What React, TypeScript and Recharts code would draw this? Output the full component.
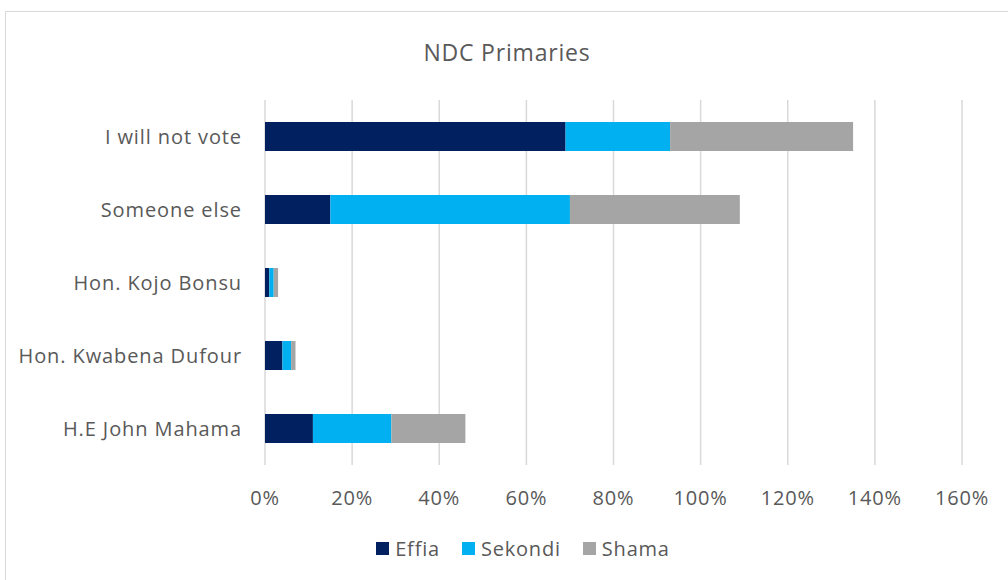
import React from "react";
import { BarChart, Bar, XAxis, YAxis, CartesianGrid } from "recharts";

const categories = [
  "I will not vote",
  "Someone else",
  "Hon. Kojo Bonsu",
  "Hon. Kwabena Dufour",
  "H.E John Mahama",
];
const effia = [69, 15, 1, 4, 11];
const sekondi = [24, 55, 1, 2, 18];
const shama = [42, 39, 1, 1, 17];
const xTicks = [0, 20, 40, 60, 80, 100, 120, 140, 160];

const series = [
  { key: "Effia", color: "#002060" },
  { key: "Sekondi", color: "#00B0F0" },
  { key: "Shama", color: "#A5A5A5" },
];

const data = categories.map((name, i) => ({
  name,
  Effia: effia[i],
  Sekondi: sekondi[i],
  Shama: shama[i],
}));

const FONT = "'Open Sans', sans-serif";
const TEXT = "#595959";

function LegendRow() {
  return (
    <div
      style={{
        position: "absolute",
        top: 535,
        left: 0,
        width: 1008,
        display: "flex",
        justifyContent: "center",
        gap: 22,
        fontFamily: FONT,
        fontSize: 20,
        letterSpacing: 0.8,
        color: TEXT,
        paddingLeft: 38,
        boxSizing: "border-box",
      }}
    >
      {series.map((s) => (
        <div key={s.key} style={{ display: "flex", alignItems: "center" }}>
          <span style={{ display: "inline-block", width: 13, height: 13, background: s.color, marginRight: 6 }} />
          {s.key}
        </div>
      ))}
    </div>
  );
}

export default function App() {
  return (
    <div style={{ position: "absolute", left: 0, top: 0, width: 1008, height: 580, background: "#fff", overflow: "hidden" }}>
      <div
        style={{
          position: "absolute",
          left: 5,
          top: 11,
          width: 1010,
          height: 580,
          border: "1px solid #d9d9d9",
        }}
      />
      <div
        style={{
          position: "absolute",
          top: 36,
          left: 5,
          width: 1004,
          textAlign: "center",
          fontFamily: FONT,
          fontSize: 23,
          letterSpacing: 0.8,
          color: TEXT,
        }}
      >
        NDC Primaries
      </div>
      <div style={{ position: "absolute", left: 0, top: 0 }}>
        <BarChart
          width={1008}
          height={580}
          data={data}
          layout="vertical"
          margin={{ top: 100, right: 46, bottom: 0, left: 0 }}
          barSize={29}
        >
          <CartesianGrid horizontal={false} stroke="#d9d9d9" strokeWidth={1.5} />
          <XAxis
            type="number"
            domain={[0, 160]}
            ticks={xTicks}
            tickFormatter={(v) => `${v}%`}
            axisLine={false}
            tickLine={false}
            tickMargin={20}
            height={115}
            tick={{ fill: TEXT, fontSize: 20, fontFamily: FONT, letterSpacing: 0.8 }}
            interval={0}
          />
          <YAxis
            type="category"
            dataKey="name"
            width={265}
            axisLine={false}
            tickLine={false}
            tickSize={0}
            tickMargin={23}
            tick={{ fill: TEXT, fontSize: 20, fontFamily: FONT, letterSpacing: 0.9 }}
            interval={0}
          />
          {series.map((s) => (
            <Bar key={s.key} dataKey={s.key} stackId="a" fill={s.color} isAnimationActive={false} />
          ))}
        </BarChart>
      </div>
      <LegendRow />
    </div>
  );
}
